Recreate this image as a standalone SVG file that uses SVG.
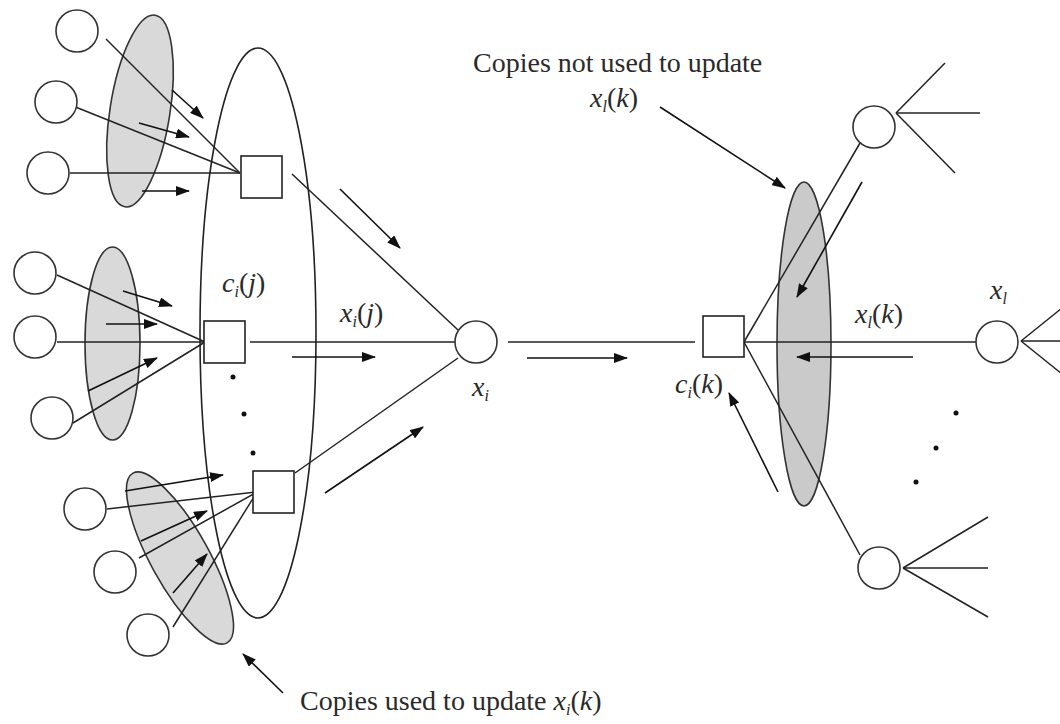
<svg xmlns="http://www.w3.org/2000/svg" width="1060" height="724" viewBox="0 0 1060 724">
<defs>
<style>
.ln{stroke:#222;stroke-width:1.5;fill:none}
.ar{stroke:#111;stroke-width:1.6;fill:none;marker-end:url(#ah)}
.cir{stroke:#333;stroke-width:1.6;fill:#fff}
.sq{stroke:#222;stroke-width:1.6;fill:#fff}
.gl{stroke:#333;stroke-width:1.6;fill:#d9d9d9}
.gr{stroke:#333;stroke-width:1.6;fill:#cacaca}
.big{stroke:#222;stroke-width:1.6;fill:none}
.dot{fill:#111}
text{font-family:"Liberation Serif","Times New Roman",serif;font-size:28px;fill:#2a2a2a}
.it{font-style:italic}
.sub{font-size:16px}
</style>
<marker id="ah" markerWidth="14" markerHeight="10" refX="13" refY="5" orient="auto" markerUnits="userSpaceOnUse">
<path d="M0,0 L14,5 L0,10 z" fill="#111"/>
</marker>
</defs>
<rect width="1060" height="724" fill="#fff"/>

<!-- grouping ellipses -->
<g id="big-ellipse"><ellipse class="big" cx="258" cy="333" rx="58" ry="285"/></g>
<g id="group-top"><ellipse class="gl" cx="140" cy="111" rx="30" ry="97" transform="rotate(9 140 111)"/></g>
<g id="group-mid"><ellipse class="gl" cx="112.5" cy="343.5" rx="27.5" ry="96.5"/></g>
<g id="group-bot"><ellipse class="gl" cx="180" cy="558" rx="29" ry="97" transform="rotate(-29 180 558)"/></g>
<g id="group-right"><ellipse class="gr" cx="804" cy="344" rx="27" ry="162"/></g>

<g id="connectors">
<!-- top cluster -->
<line class="ln" x1="106" y1="39" x2="240" y2="173"/>
<line class="ln" x1="73" y1="106" x2="240" y2="173"/>
<line class="ln" x1="70" y1="173" x2="240" y2="173"/>
<line class="ar" x1="172" y1="90" x2="203" y2="118"/>
<line class="ar" x1="139" y1="123" x2="189" y2="137"/>
<line class="ar" x1="142" y1="191" x2="189" y2="191"/>
<!-- middle cluster -->
<line class="ln" x1="57" y1="275" x2="205" y2="342"/>
<line class="ln" x1="57" y1="342" x2="205" y2="342"/>
<line class="ln" x1="73" y1="423" x2="205" y2="342"/>
<line class="ar" x1="123" y1="291" x2="172" y2="306"/>
<line class="ar" x1="106" y1="324" x2="157" y2="324"/>
<line class="ar" x1="88" y1="391" x2="157" y2="358"/>
<!-- bottom cluster -->
<line class="ln" x1="107" y1="509" x2="257" y2="492"/>
<line class="ln" x1="139" y1="558" x2="257" y2="492"/>
<line class="ln" x1="173" y1="627" x2="257" y2="492"/>
<line class="ar" x1="125" y1="491" x2="223" y2="475"/>
<line class="ar" x1="141" y1="541" x2="207" y2="511"/>
<line class="ar" x1="173" y1="593" x2="207" y2="554"/>
<!-- squares to x_i -->
<line class="ln" x1="292" y1="174" x2="458" y2="330"/>
<line class="ar" x1="340" y1="189" x2="400" y2="248"/>
<line class="ln" x1="250" y1="342" x2="455" y2="342"/>
<line class="ar" x1="292" y1="357" x2="375" y2="357"/>
<line class="ln" x1="295" y1="473" x2="458" y2="358"/>
<line class="ar" x1="325" y1="493" x2="423" y2="427"/>
<!-- x_i to c_i(k) -->
<line class="ln" x1="508" y1="342" x2="695" y2="342"/>
<line class="ar" x1="527" y1="358" x2="627" y2="358"/>
<!-- c_i(k) fan -->
<line class="ln" x1="744" y1="342" x2="860" y2="143"/>
<line class="ln" x1="744" y1="342" x2="976" y2="342"/>
<line class="ln" x1="744" y1="342" x2="860" y2="555"/>
<line class="ar" x1="913" y1="357" x2="797" y2="357"/>
<line class="ar" x1="862" y1="182" x2="797" y2="297"/>
<line class="ar" x1="778" y1="492" x2="729" y2="393"/>
<!-- top right node fan -->
<line class="ln" x1="896" y1="113" x2="945" y2="63"/>
<line class="ln" x1="896" y1="113" x2="980" y2="113"/>
<line class="ln" x1="896" y1="113" x2="955" y2="173"/>
<!-- bottom right node fan -->
<line class="ln" x1="903" y1="568" x2="988" y2="517"/>
<line class="ln" x1="903" y1="568" x2="988" y2="568"/>
<line class="ln" x1="903" y1="568" x2="988" y2="617"/>
<!-- x_l fan -->
<line class="ln" x1="1021" y1="341" x2="1062" y2="308"/>
<line class="ln" x1="1021" y1="341" x2="1062" y2="341"/>
<line class="ln" x1="1021" y1="341" x2="1062" y2="374"/>
<!-- annotation arrows -->
<line class="ar" x1="660" y1="107" x2="785" y2="188"/>
<line class="ar" x1="283" y1="693" x2="243" y2="654"/>
</g>

<!-- variable nodes -->
<g id="v1"><circle class="cir" cx="77" cy="31" r="21"/></g>
<g id="v2"><circle class="cir" cx="56" cy="102" r="21"/></g>
<g id="v3"><circle class="cir" cx="48" cy="173" r="21"/></g>
<g id="v4"><circle class="cir" cx="35" cy="273" r="21"/></g>
<g id="v5"><circle class="cir" cx="35" cy="337" r="21"/></g>
<g id="v6"><circle class="cir" cx="52" cy="418" r="21"/></g>
<g id="v7"><circle class="cir" cx="85" cy="509" r="21"/></g>
<g id="v8"><circle class="cir" cx="115" cy="572" r="21"/></g>
<g id="v9"><circle class="cir" cx="148" cy="635" r="21"/></g>
<g id="xi"><circle class="cir" cx="476" cy="342" r="21"/></g>
<g id="vr-top"><circle class="cir" cx="874" cy="127" r="21"/></g>
<g id="vr-bot"><circle class="cir" cx="879" cy="568" r="21"/></g>
<g id="xl"><circle class="cir" cx="997" cy="342" r="21"/></g>

<!-- check nodes -->
<g id="c-top"><rect class="sq" x="241" y="156" width="41" height="42"/></g>
<g id="c-mid"><rect class="sq" x="204" y="321" width="41" height="42"/></g>
<g id="c-bot"><rect class="sq" x="253" y="471" width="41" height="42"/></g>
<g id="c-k"><rect class="sq" x="703" y="316" width="41" height="41"/></g>

<!-- dots -->
<g id="dots-left">
<circle class="dot" cx="233" cy="377" r="2.5"/>
<circle class="dot" cx="244" cy="414" r="2.5"/>
<circle class="dot" cx="253" cy="453" r="2.5"/>
</g>
<g id="dots-right">
<circle class="dot" cx="956" cy="413" r="2.5"/>
<circle class="dot" cx="936" cy="448" r="2.5"/>
<circle class="dot" cx="916" cy="482" r="2.5"/>
</g>

<!-- labels -->
<g id="labels">
<text x="222" y="292"><tspan class="it">c</tspan><tspan class="sub it" dy="5">i</tspan><tspan dy="-5">(</tspan><tspan class="it">j</tspan>)</text>
<text x="340" y="322"><tspan class="it">x</tspan><tspan class="sub it" dy="5">i</tspan><tspan dy="-5">(</tspan><tspan class="it">j</tspan>)</text>
<text x="472" y="396"><tspan class="it">x</tspan><tspan class="sub it" dy="5">i</tspan></text>
<text x="675" y="393"><tspan class="it">c</tspan><tspan class="sub it" dy="5">i</tspan><tspan dy="-5">(</tspan><tspan class="it">k</tspan>)</text>
<text x="855" y="323"><tspan class="it">x</tspan><tspan class="sub it" dy="5">l</tspan><tspan dy="-5">(</tspan><tspan class="it">k</tspan>)</text>
<text x="990" y="299"><tspan class="it">x</tspan><tspan class="sub it" dy="5">l</tspan></text>
<text x="473" y="72">Copies not used to update</text>
<text x="590" y="107"><tspan class="it">x</tspan><tspan class="sub it" dy="5">l</tspan><tspan dy="-5">(</tspan><tspan class="it">k</tspan>)</text>
<text x="300" y="710">Copies used to update <tspan class="it">x</tspan><tspan class="sub it" dy="5">i</tspan><tspan dy="-5">(</tspan><tspan class="it">k</tspan>)</text>
</g>
</svg>
